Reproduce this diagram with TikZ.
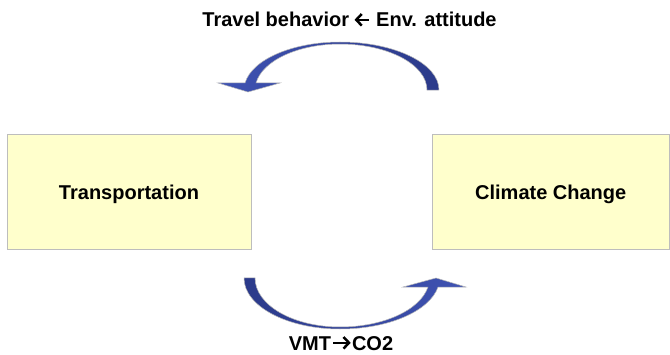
\documentclass[tikz,border=0pt]{standalone}
\usepackage{fontspec}
\setmainfont{Liberation Sans}
\definecolor{boxfill}{HTML}{FFFFCC}
\definecolor{boxline}{HTML}{BDBDBD}
\definecolor{arrowlight}{HTML}{3F53B3}
\definecolor{arrowdark}{HTML}{2B3A8A}
% heavy chevron arrows used inside the labels
\newcommand{\heavyleft}{\tikz[x=1pt,y=1pt,baseline=0pt]{%
  \draw[line width=2.5pt, line join=miter] (0.5,7.2) -- (14,7.2);
  \draw[line width=2.5pt, line join=miter] (6.3,13) -- (0.8,7.2) -- (6.3,1.4);}}
\newcommand{\heavyright}{\tikz[x=1pt,y=1pt,baseline=0pt]{%
  \draw[line width=2.5pt, line join=miter] (0,7.2) -- (16.5,7.2);
  \draw[line width=2.5pt, line join=miter] (10.2,13) -- (15.7,7.2) -- (10.2,1.4);}}
\begin{document}
\begin{tikzpicture}[x=1pt,y=1pt,
  box/.style={draw=boxline, fill=boxfill, line width=1pt,
    minimum height=114pt, inner sep=0pt, text height=14.3pt, text depth=0pt,
    font=\fontsize{20}{24}\selectfont\bfseries},
  lbl/.style={font=\fontsize{20}{24}\selectfont\bfseries, inner sep=0pt, anchor=base},
  loop/.style={draw=gray!55, line width=0.5pt}]
\useasboundingbox (0,0) rectangle (670,354);

% the two blocks
\node[box, minimum width=244pt] (trans) at (129,162) {Transportation};
\node[box, minimum width=237.5pt] (climate) at (550.75,162) {Climate Change};

% feedback arrow over the top (right to left)
\draw[loop, left color=arrowlight, right color=arrowdark]
  (439,264) arc[start angle=0, end angle=90, x radius=99pt, y radius=48pt]
  arc[start angle=90, end angle=171.6, x radius=96pt, y radius=48pt]
  -- (218,271) -- (248,262) -- (280,271) -- (256,271)
  arc[start angle=171.2, end angle=90, x radius=85pt, y radius=46pt]
  arc[start angle=90, end angle=0, x radius=87pt, y radius=46pt]
  -- cycle;

% forward arrow underneath (left to right)
\draw[loop, left color=arrowdark, right color=arrowlight]
  (244,76) arc[start angle=180, end angle=270, x radius=96pt, y radius=51pt]
  arc[start angle=270, end angle=349.8, x radius=99.6pt, y radius=51pt]
  -- (466,67) -- (436,76) -- (403,67) -- (428,67)
  arc[start angle=349.4, end angle=270, x radius=89.5pt, y radius=49pt]
  arc[start angle=270, end angle=180, x radius=85pt, y radius=49pt]
  -- cycle;

% labels of the two arrows
\node[lbl] (top) at (349.5,327) {Travel behavior \heavyleft\ Env. attitude};
\node[lbl] (bottom) at (341,4) {VMT\kern1pt\heavyright\kern1ptCO2};
\end{tikzpicture}
\end{document}
